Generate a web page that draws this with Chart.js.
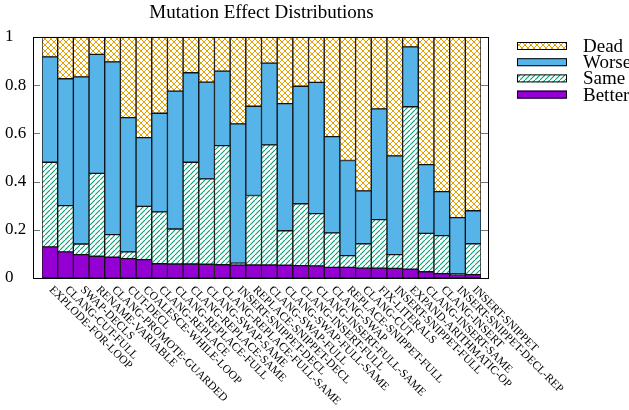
<!DOCTYPE html>
<html>
<head>
<meta charset="utf-8">
<script src="https://cdn.jsdelivr.net/npm/chart.js@4/dist/chart.umd.min.js"></script>
<style>
  html, body { margin: 0; padding: 0; background: #fff; }
  #wrap { width: 629px; height: 410px; }
</style>
</head>
<body>
<div id="wrap"><canvas id="chart" width="629" height="410"></canvas></div>
<script>
const categories = [
  "EXPLODE-FOR-LOOP", "CLANG-CUT-FULL", "SWAP-DECLS", "RENAME-VARIABLE",
  "CLANG-PROMOTE-GUARDED", "CUT-DECL", "COALESCE-WHILE-LOOP", "CLANG-REPLACE",
  "CLANG-REPLACE-FULL", "CLANG-REPLACE-SAME", "CLANG-SWAP-SAME", "CLANG-REPLACE-FULL-SAME",
  "INSERT-SNIPPET-DECL", "REPLACE-SNIPPET-DECL", "CLANG-SWAP-FULL", "CLANG-SWAP-FULL-SAME",
  "CLANG-INSERT-FULL", "CLANG-INSERT-FULL-SAME", "CLANG-SWAP", "REPLACE-SNIPPET-FULL",
  "CLANG-CUT", "FIX-LITERALS", "INSERT-SNIPPET-FULL", "EXPAND-ARITHMATIC-OP",
  "CLANG-INSERT-SAME", "CLANG-INSERT", "INSERT-SNIPPET-DECL-REP", "INSERT-SNIPPET"
];

// fraction of mutants in each outcome (stacked from the bottom)
const better = [0.129, 0.108, 0.097, 0.090, 0.086, 0.080, 0.076, 0.059, 0.058, 0.058, 0.057, 0.055, 0.054, 0.054,
                0.054, 0.053, 0.051, 0.050, 0.044, 0.044, 0.041, 0.041, 0.040, 0.037, 0.026, 0.018, 0.014, 0.014];
const same   = [0.351, 0.192, 0.044, 0.344, 0.094, 0.028, 0.221, 0.215, 0.145, 0.422, 0.354, 0.494, 0.008, 0.288,
                0.498, 0.143, 0.257, 0.217, 0.143, 0.049, 0.101, 0.201, 0.057, 0.673, 0.159, 0.158, 0.003, 0.128];
const worse  = [0.437, 0.526, 0.693, 0.493, 0.716, 0.557, 0.285, 0.409, 0.572, 0.371, 0.401, 0.309, 0.577, 0.370,
                0.339, 0.527, 0.487, 0.544, 0.399, 0.394, 0.219, 0.459, 0.409, 0.248, 0.285, 0.182, 0.233, 0.137];
const dead   = [0.083, 0.174, 0.166, 0.073, 0.104, 0.335, 0.418, 0.317, 0.225, 0.149, 0.188, 0.142, 0.361, 0.288,
                0.109, 0.277, 0.205, 0.189, 0.414, 0.513, 0.639, 0.299, 0.494, 0.042, 0.530, 0.642, 0.750, 0.721];

const yTickLabels = ["0", "0.2", "0.4", "0.6", "0.8", "1"];

const FONT = "'Liberation Serif', 'DejaVu Serif', serif";

// hatch patterns like the gnuplot fill styles
function crossHatch(color) {
  const c = document.createElement("canvas");
  c.width = 6; c.height = 6;
  const g = c.getContext("2d");
  g.fillStyle = "#fff";
  g.fillRect(0, 0, 6, 6);
  g.strokeStyle = color;
  g.lineWidth = 1;
  g.beginPath();
  g.moveTo(0, 0); g.lineTo(6, 6);
  g.moveTo(0, 6); g.lineTo(6, 0);
  g.stroke();
  return g.createPattern(c, "repeat");
}
function diagHatch(color) {
  const c = document.createElement("canvas");
  c.width = 5; c.height = 5;
  const g = c.getContext("2d");
  g.fillStyle = "#fff";
  g.fillRect(0, 0, 5, 5);
  g.strokeStyle = color;
  g.lineWidth = 1.1;
  g.beginPath();
  g.moveTo(-1, 6); g.lineTo(6, -1);
  g.stroke();
  return g.createPattern(c, "repeat");
}

const deadFill = crossHatch("#E69F00");
const sameFill = diagHatch("#009E73");

// frame, inward ticks, rotated category labels and legend
const decorations = {
  id: "decorations",
  afterDraw(chart) {
    const ctx = chart.ctx;
    const area = chart.chartArea;
    const x = chart.scales.x;
    const y = chart.scales.y;
    const fl = area.left - 9, fr = area.right + 7;
    ctx.save();

    ctx.strokeStyle = "#777";
    ctx.lineWidth = 1;
    yTickLabels.forEach((t, i) => {
      const py = Math.round(y.getPixelForValue(i * 0.2)) + 0.5;
      ctx.beginPath();
      ctx.moveTo(fl, py); ctx.lineTo(fl + 7, py);
      ctx.moveTo(fr, py); ctx.lineTo(fr - 7, py);
      ctx.stroke();
    });

    ctx.strokeStyle = "#000";
    ctx.strokeRect(fl + 0.5, Math.round(area.top) + 0.5, fr - fl, Math.round(area.bottom - area.top));

    ctx.fillStyle = "#000";
    ctx.font = "11.5px " + FONT;
    ctx.textAlign = "left";
    ctx.textBaseline = "middle";
    categories.forEach((name, i) => {
      const px = x.getPixelForValue(i);
      ctx.save();
      ctx.translate(px + 1, area.bottom + 10);
      ctx.rotate(Math.PI / 4);
      ctx.fillText(name, 0, 0);
      ctx.restore();
    });

    const order = [3, 2, 1, 0];
    ctx.font = "19px " + FONT;
    order.forEach((d, k) => {
      const ds = chart.data.datasets[d];
      const cy = 46 + k * 16.2;
      ctx.fillStyle = ds.backgroundColor;
      ctx.fillRect(517, cy - 4, 50, 8);
      ctx.strokeStyle = "#000";
      ctx.strokeRect(517.5, cy - 3.5, 49, 7);
      ctx.fillStyle = "#000";
      ctx.fillText(ds.label, 583, cy + 1);
    });
    ctx.restore();
  }
};

new Chart(document.getElementById("chart"), {
  type: "bar",
  data: {
    labels: categories,
    datasets: [
      { label: "Better", data: better, backgroundColor: "#9400D3" },
      { label: "Same", data: same, backgroundColor: sameFill },
      { label: "Worse", data: worse, backgroundColor: "#56B4E9" },
      { label: "Dead", data: dead, backgroundColor: deadFill },
    ],
  },
  options: {
    responsive: false,
    animation: false,
    devicePixelRatio: 1,
    layout: { padding: { left: 5, right: 148, top: 0, bottom: 132 } },
    datasets: {
      bar: {
        barPercentage: 1,
        categoryPercentage: 1,
        borderColor: "#111",
        borderWidth: 1,
        borderSkipped: false,
      },
    },
    scales: {
      x: { stacked: true, display: false },
      y: {
        stacked: true,
        min: 0,
        max: 1,
        afterFit: (s) => { s.width = 37; },
        afterBuildTicks: (s) => { s.ticks = yTickLabels.map((t, i) => ({ value: i * 0.2 })); },
        grid: { display: false },
        border: { display: false },
        ticks: {
          crossAlign: "far",
          color: "#000",
          font: { family: FONT, size: 17 },
          callback: (v, i) => yTickLabels[i],
        },
      },
    },
    plugins: {
      legend: { display: false },
      tooltip: { enabled: false },
      title: {
        display: true,
        fullSize: false,
        text: "Mutation Effect Distributions",
        color: "#000",
        font: { family: FONT, size: 19, weight: "normal" },
        padding: { top: 2, bottom: 12 },
      },
    },
  },
  plugins: [decorations],
});
</script>
</body>
</html>
